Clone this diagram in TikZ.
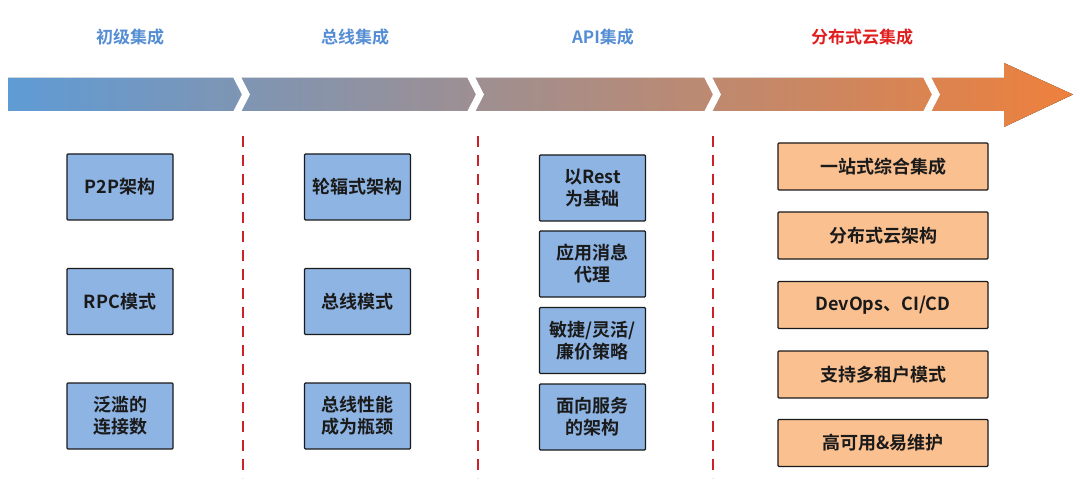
\documentclass[tikz,border=0pt]{standalone}
\usepackage{fontspec}
\setmainfont{Noto Sans CJK SC}[BoldFont={* Bold}]
\usepackage{tikz}
\definecolor{boxblue}{RGB}{142,180,227}
\definecolor{boxorange}{RGB}{250,192,144}
\definecolor{titleblue}{RGB}{84,141,212}
\definecolor{titlered}{RGB}{224,30,30}
\definecolor{linered}{RGB}{205,32,40}
\definecolor{bandleft}{RGB}{95,155,213}
\definecolor{bandmid}{RGB}{160,138,172}
\definecolor{bandright}{RGB}{238,128,60}
\definecolor{ink}{RGB}{26,26,26}

\begin{document}
\begin{tikzpicture}[x=1pt,y=-1pt,
    title/.style={font=\fontsize{17}{20}\selectfont\bfseries,text=titleblue},
    card/.style={draw=ink,line width=1.3pt,rounded corners=1pt,text=ink,
      font=\fontsize{18}{22}\selectfont\bfseries,align=center,inner sep=0pt},
    bluecard/.style={card,fill=boxblue,minimum width=106pt,minimum height=66pt},
    orangecard/.style={card,fill=boxorange,minimum width=210pt,minimum height=47pt},
    divider/.style={linered,line width=2.8pt,dash pattern=on 11pt off 8pt}]
  \useasboundingbox (0,0) rectangle (1080,484);

  \fill[left color=bandleft,middle color=bandmid,right color=bandright]
    (8,78) -- (1004,78) -- (1004,63) -- (1073,94.5) -- (1004,127) -- (1004,111) -- (8,111) -- cycle;
  \foreach \p in {242,476,713,932}
    \fill[white] (\p-9,77) -- (\p,94.5) -- (\p-9,112) -- (\p-1,112) -- (\p+8,94.5) -- (\p-1,77) -- cycle;

  \node[title] (stage1) at (130,37) {初级集成};
  \node[title] (stage2) at (355,37) {总线集成};
  \node[title] (stage3) at (603,37) {API集成};
  \node[title,text=titlered] (stage4) at (862,37) {分布式云集成};

  \foreach \x in {243,478,713}
    \draw[divider] (\x,136) -- (\x,478);

  \node[bluecard] (p2p) at (120,187) {P2P架构};
  \node[bluecard] (rpc) at (120,301.5) {RPC模式};
  \node[bluecard] (links) at (120,416) {泛滥的\\连接数};

  \node[bluecard] (hub) at (357.5,187) {轮辐式架构};
  \node[bluecard] (bus) at (357.5,301.5) {总线模式};
  \node[bluecard] (neck) at (357.5,416) {总线性能\\成为瓶颈};

  \node[bluecard] (rest) at (592.5,188) {以Rest\\为基础};
  \node[bluecard] (broker) at (592.5,264) {应用消息\\代理};
  \node[bluecard] (agile) at (592.5,340.5) {敏捷/灵活/\\廉价策略};
  \node[bluecard] (soa) at (592.5,417) {面向服务\\的架构};

  \node[orangecard] (onestop) at (883,166.5) {一站式综合集成};
  \node[orangecard] (cloud) at (883,235.5) {分布式云架构};
  \node[orangecard] (devops) at (883,305) {DevOps、CI/CD};
  \node[orangecard] (tenant) at (883,374.5) {支持多租户模式};
  \node[orangecard] (ha) at (883,443) {高可用\&易维护};
\end{tikzpicture}
\end{document}
